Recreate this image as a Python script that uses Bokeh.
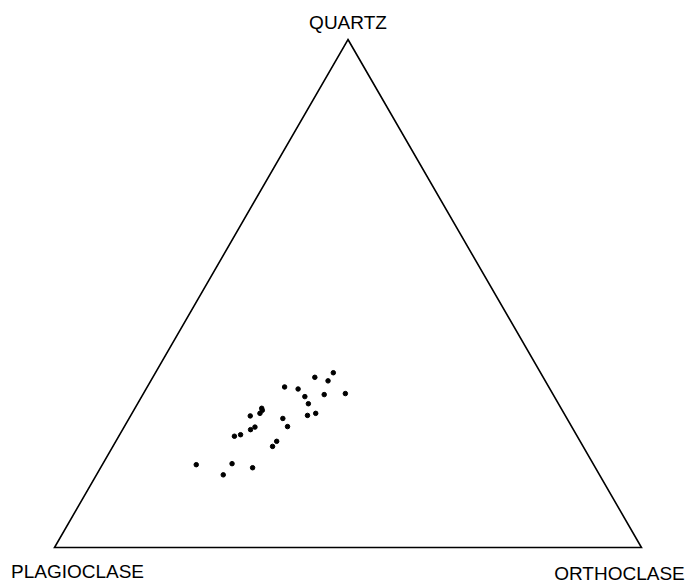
import math

from bokeh.core.properties import value
from bokeh.embed import file_html
from bokeh.models import ColumnDataSource, Range1d
from bokeh.plotting import figure
from bokeh.resources import INLINE

# Modal composition of the samples, in percent of the three end members
quartz = [16.3, 14.3, 16.5, 15.7, 21.9, 22.2, 23.2, 23.7, 25.9, 26.4, 27.4, 27.0,
          19.9, 20.9, 25.4, 23.8, 31.6, 31.2, 29.7, 28.3, 26.0, 26.4, 33.5, 30.1,
          32.8, 34.4, 30.3]
orthoclase = [16.0, 21.6, 22.0, 25.9, 19.7, 20.6, 21.8, 22.3, 20.4, 21.8, 21.6, 21.9,
              27.2, 27.4, 26.2, 27.8, 23.4, 25.9, 27.8, 29.1, 30.1, 31.3, 27.6, 30.9,
              30.2, 30.3, 34.4]
plagioclase = [round(100 - q - o, 1) for q, o in zip(quartz, orthoclase)]

# Apex names: quartz at top, plagioclase lower left, orthoclase lower right
vertex_labels = ["QUARTZ", "PLAGIOCLASE", "ORTHOCLASE"]

H = math.sqrt(3) / 2


def to_xy(q, p, o):
    total = q + p + o
    q, o = 100 * q / total, 100 * o / total
    return o + q / 2, q * H


pts = [to_xy(q, p, o) for q, p, o in zip(quartz, plagioclase, orthoclase)]
src = ColumnDataSource(dict(x=[a for a, _ in pts], y=[b for _, b in pts]))

p = figure(width=686, height=583, output_backend="svg", toolbar_location=None,
           x_range=Range1d(-9.2, 107.67), y_range=Range1d(-6.14, 93.25),
           min_border=0, outline_line_color=None, background_fill_color="white",
           border_fill_color="white")
p.axis.visible = False
p.grid.visible = False

# Triangle outline from the three pure end members
corners = [to_xy(100, 0, 0), to_xy(0, 0, 100), to_xy(0, 100, 0)]
p.patch([c[0] for c in corners], [c[1] for c in corners], fill_color=None,
        line_color="black", line_width=1.6, line_join="miter")

p.scatter("x", "y", source=src, size=4.5, color="black")

label_src = ColumnDataSource(dict(
    x=[corners[0][0], corners[2][0], corners[1][0]],
    y=[corners[0][1], corners[2][1], corners[1][1]],
    text=vertex_labels,
    xo=[0, 23, -22],
    yo=[-27, 14, 15.5],
))
p.text("x", "y", text="text", source=label_src, x_offset="xo", y_offset="yo",
       text_align="center", text_baseline="top",
       text_font=value("Liberation Sans"), text_font_size="19px", text_color="black")

open("out.html", "w").write(file_html(p, INLINE))
